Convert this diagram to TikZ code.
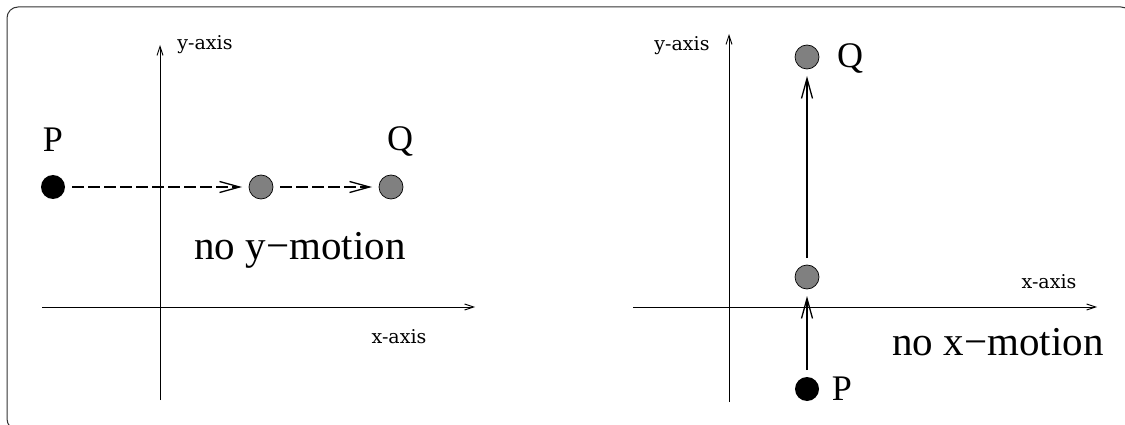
\documentclass[tikz,border=0pt]{standalone}
\usepackage{fontspec}
\setmainfont{Liberation Serif}
\newfontfamily\axisfont{DejaVu Serif}
\usetikzlibrary{arrows.meta}
\begin{document}
\begin{tikzpicture}[x=1pt,y=-1pt,
  axisline/.style={line width=0.9pt,-{Straight Barb[length=9pt,width=6pt,line width=0.9pt]}},
  move/.style={line width=1.1pt,-{Straight Barb[length=20pt,width=11pt,line width=1.3pt]}},
  dashmove/.style={move,dash pattern=on 12pt off 4pt},
  startdot/.style={circle,fill=black,minimum size=24pt,inner sep=0pt,outer sep=7pt},
  middot/.style={circle,draw=black,fill=gray,line width=0.7pt,minimum size=24pt,inner sep=0pt,outer sep=7pt},
  letter/.style={font=\fontsize{36}{40}\selectfont,inner sep=0pt,anchor=base},
  motion/.style={font=\fontsize{41}{46}\selectfont,inner sep=0pt,anchor=base},
  axislabel/.style={font=\axisfont\fontsize{19}{22}\selectfont,inner sep=0pt,anchor=base},
  frame/.style={draw=black!80,line width=1pt,rounded corners=11pt}]
\useasboundingbox (0,0) rectangle (1125,425);
\clip (0,0) rectangle (1125,425);
\draw[frame] (7,7) rectangle (1132,430);

% ---------- left panel ----------
\coordinate (lxs) at (42,307);
\coordinate (lxe) at (475,307);
\coordinate (lys) at (160,400);
\coordinate (lye) at (160,45);
\draw[axisline] (lxs) -- (lxe);
\draw[axisline] (lys) -- (lye);
\node[axislabel] (lylab) at (205,50) {y-axis};
\node[axislabel] (lxlab) at (399,343) {x-axis};

\node[startdot] (lP) at (53,187) {};
\node[middot] (lM) at (261,187) {};
\node[middot] (lQ) at (391,187) {};
\node[letter] (lPl) at (53,152) {P};
\node[letter] (lQl) at (400,151) {Q};
\draw[dashmove] (lP) -- (lM);
\draw[dashmove] (lM) -- (lQ);
\node[motion] (lmot) at (300,259) {no y−motion};

% ---------- right panel ----------
\coordinate (rxs) at (633,307);
\coordinate (rxe) at (1097,307);
\coordinate (rys) at (729,402);
\coordinate (rye) at (729,34);
\draw[axisline] (rxs) -- (rxe);
\draw[axisline] (rys) -- (rye);
\node[axislabel] (rylab) at (682,51) {y-axis};
\node[axislabel] (rxlab) at (1049,288) {x-axis};

\node[startdot] (rP) at (807,389) {};
\node[middot] (rM) at (807,277) {};
\node[middot] (rQ) at (807,57) {};
\node[letter] (rPl) at (842,400) {P};
\node[letter] (rQl) at (850,68) {Q};
\draw[move] (rP) -- (rM);
\draw[move] (rM) -- (rQ);
\node[motion] (rmot) at (998,355) {no x−motion};
\end{tikzpicture}
\end{document}
